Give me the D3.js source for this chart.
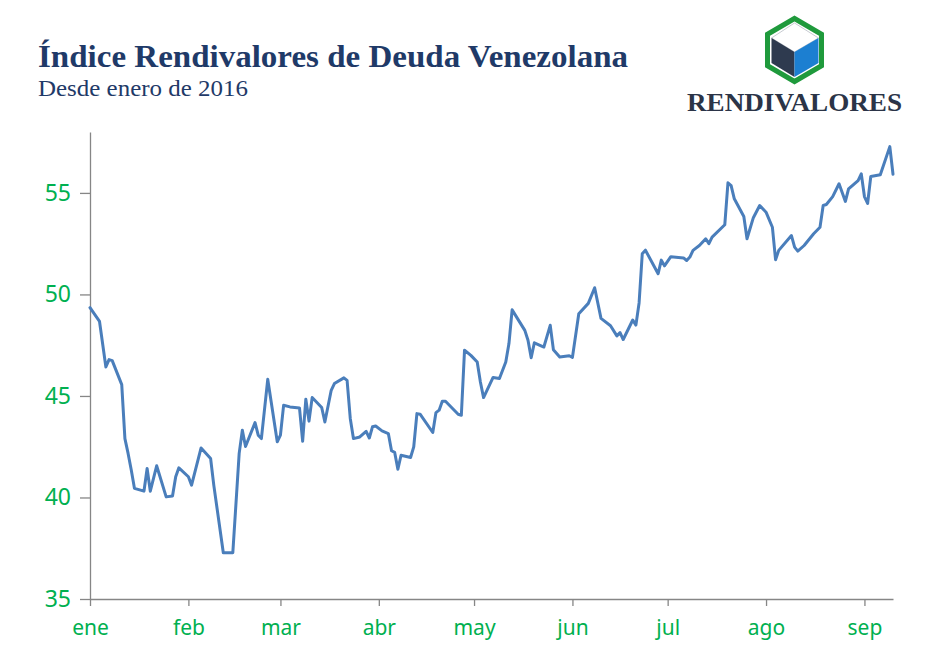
<!DOCTYPE html>
<html>
<head>
<meta charset="utf-8">
<script src="https://cdn.jsdelivr.net/npm/d3@7"></script>
<style>
  body { margin: 0; background: #fff; }
  svg { display: block; }
</style>
</head>
<body>
<svg id="chart" width="940" height="672"></svg>
<script>
'use strict';

// fechas (2016) y valores del indice
const fechas = [
  "01-01","01-04","01-06","01-07","01-08","01-11","01-12","01-13","01-14","01-15",
  "01-18","01-19","01-20","01-22","01-25","01-27","01-28","01-29","02-01","02-02",
  "02-05","02-08","02-09","02-12","02-15","02-17","02-18","02-19","02-22","02-23",
  "02-24","02-26","02-29","03-01","03-02","03-04","03-07","03-08","03-09","03-10",
  "03-11","03-14","03-15","03-17","03-18","03-21","03-22","03-23","03-24","03-26",
  "03-28","03-29","03-30","03-31","04-02","04-04","04-05","04-06","04-07","04-08",
  "04-11","04-12","04-13","04-14","04-18","04-19","04-20","04-21","04-22","04-26",
  "04-27","04-28","04-30","05-02","05-03","05-04","05-07","05-09","05-11","05-12",
  "05-13","05-17","05-18","05-19","05-20","05-23","05-25","05-26","05-28","05-31",
  "06-01","06-03","06-06","06-08","06-10","06-13","06-15","06-16","06-17","06-20",
  "06-21","06-22","06-23","06-24","06-28","06-29","06-30","07-02","07-06","07-07",
  "07-08","07-09","07-11","07-13","07-14","07-15","07-19","07-20","07-21","07-22",
  "07-25","07-26","07-28","07-30","08-01","08-03","08-04","08-05","08-09","08-10",
  "08-11","08-13","08-16","08-18","08-19","08-20","08-22","08-24","08-26","08-27",
  "08-30","08-31","09-01","09-02","09-03","09-06","09-09","09-10"
];

const valores = [
  49.35,48.67,46.43,46.79,46.74,45.56,42.90,42.17,41.35,40.45,
  40.31,41.43,40.31,41.56,40.03,40.07,41.02,41.46,41.02,40.61,
  42.44,41.92,40.61,37.28,37.28,42.17,43.31,42.51,43.69,43.07,
  42.90,45.82,42.74,43.07,44.54,44.46,44.41,42.77,44.84,43.76,
  44.92,44.43,43.72,45.28,45.61,45.89,45.77,43.89,42.90,42.98,
  43.26,42.93,43.48,43.52,43.28,43.15,42.30,42.22,41.39,42.08,
  41.97,42.49,44.13,44.10,43.20,44.18,44.30,44.74,44.74,44.10,
  44.05,47.25,47.00,46.67,45.69,44.92,45.91,45.86,46.67,47.58,
  49.24,48.23,47.74,46.88,47.62,47.41,48.48,47.28,46.92,46.98,
  46.90,49.05,49.56,50.33,48.82,48.46,47.96,48.12,47.78,48.74,
  48.49,49.58,52.00,52.18,51.02,51.69,51.41,51.86,51.80,51.67,
  51.84,52.17,52.41,52.74,52.50,52.82,53.43,55.50,55.36,54.71,
  53.84,52.74,53.78,54.38,54.05,53.31,51.71,52.17,52.90,52.33,
  52.13,52.41,52.99,53.31,54.38,54.43,54.82,55.45,54.58,55.20,
  55.61,55.94,54.82,54.48,55.81,55.89,57.28,55.92
];

const yTicks = [35, 40, 45, 50, 55];
const meses = ["ene", "feb", "mar", "abr", "may", "jun", "jul", "ago", "sep"];

const parse = d3.timeParse("%Y-%m-%d");
const data = fechas.map((f, i) => ({ fecha: parse("2016-" + f), valor: valores[i] }));

const svg = d3.select("#chart");
const verde = "#00b050";
const azul = "#4a7ebb";
const gris = "#868686";

const x = d3.scaleTime()
  .domain([data[0].fecha, data[data.length - 1].fecha])
  .range([90, 893]);

const y = d3.scaleLinear()
  .domain([35, 58])
  .range([599, 132]);

// titulo
svg.append("text")
  .attr("x", 38).attr("y", 67)
  .attr("font-family", "Liberation Serif, serif")
  .attr("font-weight", "bold")
  .attr("font-size", 32)
  .attr("textLength", 590)
  .attr("lengthAdjust", "spacingAndGlyphs")
  .attr("fill", "#1f3a68")
  .text("Índice Rendivalores de Deuda Venezolana");

svg.append("text")
  .attr("x", 38).attr("y", 96)
  .attr("font-family", "Liberation Serif, serif")
  .attr("font-size", 23)
  .attr("textLength", 210)
  .attr("lengthAdjust", "spacingAndGlyphs")
  .attr("fill", "#1f3a68")
  .text("Desde enero de 2016");

// logo
const logo = svg.append("g").attr("transform", "translate(794.5,50)");
const hex = (w, h) => `M0,${-h}L${w},${-h / 2}L${w},${h / 2}L0,${h}L${-w},${h / 2}L${-w},${-h / 2}Z`;

logo.append("path")
  .attr("d", hex(27, 31.5))
  .attr("fill", "#fff")
  .attr("stroke", "#1f9a3c")
  .attr("stroke-width", 5);

logo.append("path")
  .attr("d", "M0,-27L24,-12L0,2L-23,-12Z")
  .attr("fill", "#fff")
  .attr("stroke", "#c8ccd2")
  .attr("stroke-width", 1);

logo.append("path")
  .attr("d", "M-23,-12L0,2L0,27L-23,13Z")
  .attr("fill", "#2e3a4f");

logo.append("path")
  .attr("d", "M0,2L24,-12L24,13L0,27Z")
  .attr("fill", "#1c7fd1");

svg.append("text")
  .attr("x", 687).attr("y", 111)
  .attr("font-family", "Liberation Serif, serif")
  .attr("font-weight", "bold")
  .attr("font-size", 25)
  .attr("textLength", 215)
  .attr("lengthAdjust", "spacingAndGlyphs")
  .attr("fill", "#2b3447")
  .text("RENDIVALORES");

// ejes
const yAxis = svg.append("g")
  .attr("transform", "translate(90,0)")
  .call(d3.axisLeft(y).tickValues(yTicks).tickSize(10).tickSizeOuter(0).tickPadding(9));

const monthTicks = d3.timeMonth.range(new Date(2016, 0, 1), new Date(2016, 8, 2));

const xAxis = svg.append("g")
  .attr("transform", "translate(0,599)")
  .call(d3.axisBottom(x)
    .tickValues(monthTicks)
    .tickFormat((d, i) => meses[i])
    .tickSize(7).tickSizeOuter(0).tickPadding(14));

[yAxis, xAxis].forEach(ax => {
  ax.select(".domain").attr("stroke", gris).attr("stroke-width", 1.3);
  ax.selectAll(".tick line").attr("stroke", gris).attr("stroke-width", 1.3);
  ax.selectAll(".tick text")
    .attr("fill", verde)
    .attr("font-family", "Noto Sans, sans-serif");
});

yAxis.selectAll(".tick text").attr("font-size", 23);
xAxis.selectAll(".tick text").attr("font-size", 21);

// linea
const line = d3.line()
  .x(d => x(d.fecha))
  .y(d => y(d.valor));

svg.append("path")
  .datum(data)
  .attr("d", line)
  .attr("fill", "none")
  .attr("stroke", azul)
  .attr("stroke-width", 3)
  .attr("stroke-linejoin", "round")
  .attr("stroke-linecap", "round");
</script>
</body>
</html>
